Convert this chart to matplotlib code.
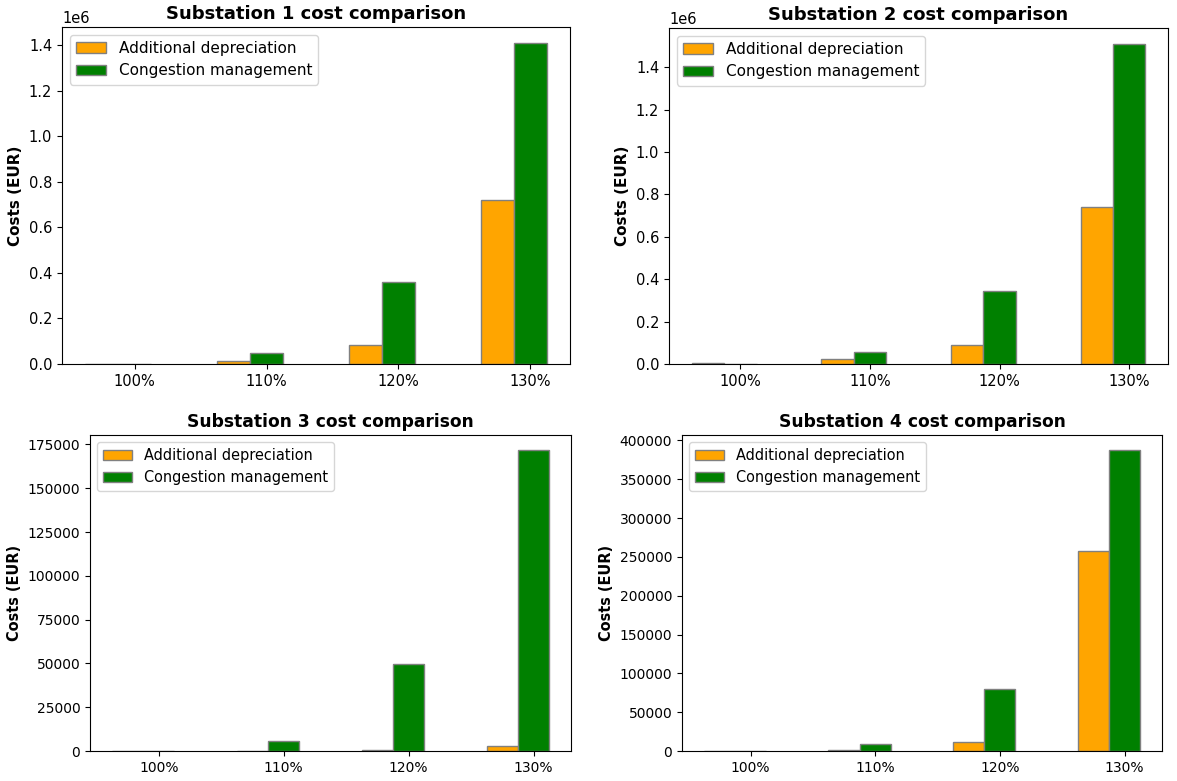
import matplotlib
matplotlib.use('Agg')
import matplotlib.pyplot as plt
import numpy as np

# loading levels
levels = ['100%', '110%', '120%', '130%']

# costs per substation (EUR)
depr_s1 = [2000, 13000, 84000, 720000]
cong_s1 = [500, 47000, 359000, 1410000]

depr_s2 = [4000, 24000, 90000, 740000]
cong_s2 = [1000, 55000, 345000, 1510000]

depr_s3 = [150, 200, 600, 2800]
cong_s3 = [80, 5700, 49600, 171800]

depr_s4 = [500, 1700, 12000, 257000]
cong_s4 = [200, 8500, 79400, 387600]

depr_all = [depr_s1, depr_s2, depr_s3, depr_s4]
cong_all = [cong_s1, cong_s2, cong_s3, cong_s4]

width = 0.25

# axes boxes [left, bottom, width, height]
boxes = [
    [0.0527, 0.5339, 0.4316, 0.4315],
    [0.5684, 0.5339, 0.4240, 0.4302],
    [0.0765, 0.0384, 0.4087, 0.4046],
    [0.5794, 0.0384, 0.4078, 0.4046],
]
# bottom row text is a bit smaller
scales = [1.0, 1.0, 0.95, 0.95]


def draw_sub(ax, n, depr, cong, s):
    x = np.arange(len(levels))
    ax.bar(x, depr, width, color='orange', edgecolor='grey', label='Additional depreciation')
    ax.bar(x + width, cong, width, color='green', edgecolor='grey', label='Congestion management')
    ax.set_xticks(x + width)
    ax.set_xticklabels(levels)
    ax.tick_params(axis='both', labelsize=10.5 * s)
    ax.yaxis.get_offset_text().set_fontsize(10.5 * s)
    ax.set_ylabel('Costs (EUR)', fontweight='bold', fontsize=11 * s)
    ax.set_title('Substation %d cost comparison' % n, fontweight='bold', fontsize=13 * s)
    ax.legend(loc='upper left', fontsize=11 * s)


fig = plt.figure(figsize=(11.77, 7.81), dpi=100)
for i in range(4):
    ax = fig.add_axes(boxes[i])
    draw_sub(ax, i + 1, depr_all[i], cong_all[i], scales[i])

plt.savefig('out.png')
